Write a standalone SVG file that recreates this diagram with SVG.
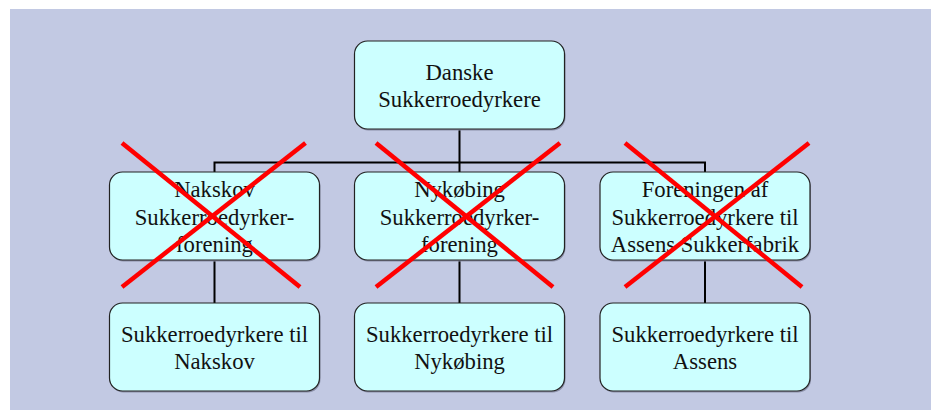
<svg xmlns="http://www.w3.org/2000/svg" width="936" height="410" viewBox="0 0 936 410">
<style>
.bg{fill:#c2c9e3}
.node{fill:#ccffff;stroke:#222;stroke-width:1.2}
.shadow{fill:#8a8fa8}
.conn{fill:none;stroke:#000;stroke-width:2}
.cross{stroke:#ff0000;stroke-width:4.5;stroke-linecap:butt}
.t{font-family:'Liberation Serif','DejaVu Serif',serif;font-size:22.7px;fill:#111;text-anchor:middle}
</style>
<rect x="0" y="0" width="936" height="410" fill="#ffffff"/>
<rect class="bg" x="10" y="9" width="921" height="401"/>
<g id="connectors">
<path class="conn" d="M459.5 129 V162.5 M214.5 172 V162.5 H705 V172 M459.5 162.5 V172"/>
<path class="conn" d="M214.5 260 V303 M459.5 260 V303 M705 260 V303"/>
</g>
<g id="n0">
<rect class="shadow" x="355.5" y="42.5" width="210" height="88" rx="13"/>
<rect class="node" x="354.5" y="41" width="210" height="88" rx="13"/>
<text class="t" font-family="Liberation Serif" x="459.5" y="80">Danske</text>
<text class="t" font-family="Liberation Serif" x="459.5" y="106.5">Sukkerroedyrkere</text>
</g>
<g id="n1">
<rect class="shadow" x="110.5" y="173.5" width="210" height="88" rx="13"/>
<rect class="node" x="109.5" y="172" width="210" height="88" rx="13"/>
<text class="t" font-family="Liberation Serif" x="214.5" y="197">Nakskov</text>
<text class="t" font-family="Liberation Serif" x="214.5" y="224.5">Sukkerroedyrker-</text>
<text class="t" font-family="Liberation Serif" x="214.5" y="251.5">forening</text>
</g>
<g id="n2">
<rect class="shadow" x="355.5" y="173.5" width="210" height="88" rx="13"/>
<rect class="node" x="354.5" y="172" width="210" height="88" rx="13"/>
<text class="t" font-family="Liberation Serif" x="459.5" y="197">Nykøbing</text>
<text class="t" font-family="Liberation Serif" x="459.5" y="224.5">Sukkerroedyrker-</text>
<text class="t" font-family="Liberation Serif" x="459.5" y="251.5">forening</text>
</g>
<g id="n3">
<rect class="shadow" x="601" y="173.5" width="210" height="88" rx="13"/>
<rect class="node" x="600" y="172" width="210" height="88" rx="13"/>
<text class="t" font-family="Liberation Serif" x="705" y="197">Foreningen af</text>
<text class="t" font-family="Liberation Serif" x="705" y="224.5">Sukkerroedyrkere til</text>
<text class="t" font-family="Liberation Serif" x="705" y="251.5">Assens Sukkerfabrik</text>
</g>
<g id="n4">
<rect class="shadow" x="110.5" y="304.5" width="210" height="88" rx="13"/>
<rect class="node" x="109.5" y="303" width="210" height="88" rx="13"/>
<text class="t" font-family="Liberation Serif" x="214.5" y="341.5">Sukkerroedyrkere til</text>
<text class="t" font-family="Liberation Serif" x="214.5" y="369">Nakskov</text>
</g>
<g id="n5">
<rect class="shadow" x="355.5" y="304.5" width="210" height="88" rx="13"/>
<rect class="node" x="354.5" y="303" width="210" height="88" rx="13"/>
<text class="t" font-family="Liberation Serif" x="459.5" y="341.5">Sukkerroedyrkere til</text>
<text class="t" font-family="Liberation Serif" x="459.5" y="369">Nykøbing</text>
</g>
<g id="n6">
<rect class="shadow" x="601" y="304.5" width="210" height="88" rx="13"/>
<rect class="node" x="600" y="303" width="210" height="88" rx="13"/>
<text class="t" font-family="Liberation Serif" x="705" y="341.5">Sukkerroedyrkere til</text>
<text class="t" font-family="Liberation Serif" x="705" y="369">Assens</text>
</g>
<g id="crosses">
<line class="cross" x1="122" y1="143" x2="300" y2="287"/>
<line class="cross" x1="305.5" y1="143" x2="122" y2="287"/>
<line class="cross" x1="376" y1="143" x2="553" y2="287"/>
<line class="cross" x1="560" y1="143" x2="376" y2="287"/>
<line class="cross" x1="625" y1="143" x2="802" y2="287"/>
<line class="cross" x1="809" y1="143" x2="625" y2="287"/>
</g>
</svg>
